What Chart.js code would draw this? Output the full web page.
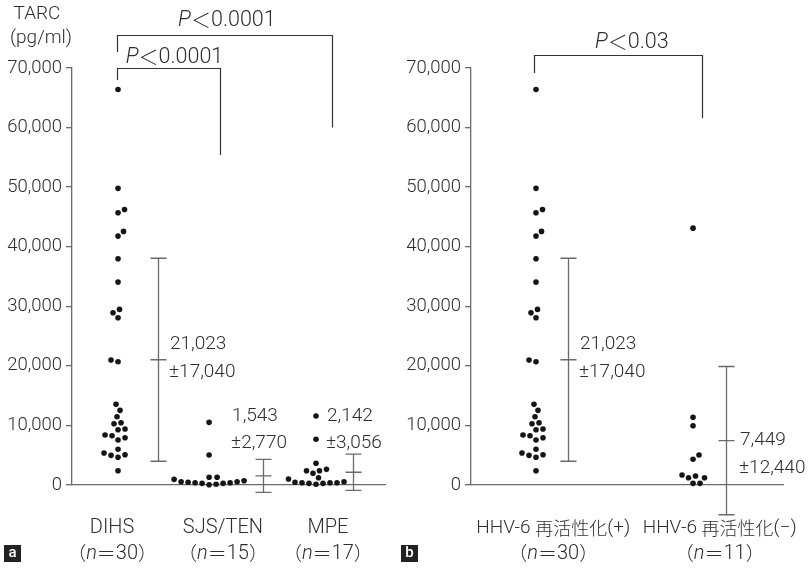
<!DOCTYPE html>
<html><head><meta charset="utf-8">
<script src="https://cdn.jsdelivr.net/npm/chart.js@4.4.1/dist/chart.umd.min.js"></script>
<style>
html,body{margin:0;padding:0;background:#fff;}
#wrap{position:relative;width:808px;height:569px;overflow:hidden;}
canvas{position:absolute;top:0;}
</style>
</head><body>
<div id="wrap">
<canvas id="c1" width="400" height="569" style="left:0"></canvas>
<canvas id="c2" width="408" height="569" style="left:400px"></canvas>
</div>
<script>
// ---------------- DATA ----------------
const yTickMax = 70000;
const yTickStep = 10000;
const yAxisTitle = ['TARC', '(pg/ml)'];

// panel a
const catsA = ['DIHS', 'SJS/TEN', 'MPE'];
const nA = [30, 15, 17];
const dihsValues = [66400, 49800, 46250, 45690, 42570, 41780, 37970, 34060, 29480, 28910, 28070,
  20970, 20690, 13540, 12530, 11460, 10450, 10290, 9400, 9280, 8390, 8270, 7940, 7550,
  5990, 5370, 5080, 4980, 4650, 2400];
const sjsValues = [10520, 5030, 1290, 1290, 950, 720, 550, 550, 450, 390, 390, 280, 280, 120, 50];
const mpeValues = [11580, 7670, 3640, 2630, 2400, 2400, 1960, 1220, 1010, 550, 450, 390, 390, 390, 280, 280, 120];
const meansA = [21023, 1543, 2142];
const sdsA = [17040, 2770, 3056];
const pTextsA = ['0.0001', '0.0001'];

// panel b
const catsB = ['HHV-6 再活性化(+)', 'HHV-6 再活性化(−)'];
const nB = [30, 11];
const hhvPosValues = dihsValues.slice();
const hhvNegValues = [43120, 11360, 9950, 5030, 4310, 1680, 1510, 1220, 1220, 280, 280];
const meansB = [21023, 7449];
const sdsB = [17040, 12440];
const pTextsB = ['0.03'];

// ---------------- STYLE / LAYOUT ----------------
const TXT = '#2e2e2e';
const AX = '#6a6a6a';
const REG = (s) => `300 ${s}px Roboto, "Liberation Sans", sans-serif`;
const ITA = (s) => `italic 300 ${s}px Roboto, "Liberation Sans", sans-serif`;
const CJK = (s) => `300 ${s}px "Noto Sans CJK JP", sans-serif`;

function fmt(v) { return v.toLocaleString('en-US'); }

function richWidth(ctx, parts) {
  let w = 0;
  parts.forEach(p => { ctx.font = p.f; w += ctx.measureText(p.t).width; });
  return w;
}
function drawRich(ctx, parts, x, y, align) {
  const w = richWidth(ctx, parts);
  let sx = align === 'center' ? x - w / 2 : (align === 'right' ? x - w : x);
  ctx.textBaseline = 'middle';
  ctx.textAlign = 'left';
  parts.forEach(p => { ctx.font = p.f; ctx.fillText(p.t, sx, y); sx += ctx.measureText(p.t).width; });
}
function nLabel(n) {
  return [{t: '（', f: CJK(19)}, {t: 'n', f: ITA(20)}, {t: '＝', f: CJK(19)}, {t: String(n), f: REG(20)}, {t: '）', f: CJK(19)}];
}
function nameLabel(name) {
  const m = name.match(/^(HHV-6 )(再活性化)(.*)$/);
  if (m) return [{t: m[1], f: REG(19)}, {t: m[2], f: CJK(18)}, {t: m[3], f: REG(19)}];
  return [{t: name, f: REG(20)}];
}
function pLabel(p) {
  return [{t: 'P', f: ITA(21.5)}, {t: '＜', f: CJK(20)}, {t: p, f: REG(21.5)}];
}

function makePanel(canvasId, cfg) {
  const groups = cfg.groups;
  const overlay = {
    id: 'overlay' + canvasId,
    afterDatasetsDraw(chart) {
      const ctx = chart.ctx, xs = chart.scales.x, ys = chart.scales.y;
      ctx.save();
      // error bars
      ctx.strokeStyle = AX; ctx.lineWidth = 1.3;
      groups.forEach((g, i) => {
        const cx = Math.round(xs.getPixelForValue(cfg.slots[i]) + cfg.errDx[i]) + 0.5;
        const yt = ys.getPixelForValue(g.mean + g.sd);
        const yb = ys.getPixelForValue(g.mean - g.sd);
        const ym = ys.getPixelForValue(g.mean);
        const hw = 8;
        ctx.beginPath();
        ctx.moveTo(cx, yt); ctx.lineTo(cx, yb);
        ctx.moveTo(cx - hw, yt); ctx.lineTo(cx + hw, yt);
        ctx.moveTo(cx - hw, yb); ctx.lineTo(cx + hw, yb);
        ctx.moveTo(cx - hw, ym); ctx.lineTo(cx + hw, ym);
        ctx.stroke();
        // mean ± sd text
        ctx.fillStyle = TXT;
        const tx = xs.getPixelForValue(cfg.slots[i]) + cfg.textDx[i];
        drawRich(ctx, [{t: fmt(g.mean), f: REG(19)}], tx, ys.getPixelForValue(cfg.textY[i][0]), 'left');
        drawRich(ctx, [{t: '±' + fmt(g.sd), f: REG(19)}], tx - 1, ys.getPixelForValue(cfg.textY[i][1]), 'left');
      });
      // brackets
      ctx.strokeStyle = '#333'; ctx.lineWidth = 1.2; ctx.fillStyle = TXT;
      cfg.brackets.forEach(b => {
        const x1 = Math.round(xs.getPixelForValue(b.x1)) + 0.5, x2 = Math.round(xs.getPixelForValue(b.x2)) + 0.5;
        const yTop = Math.round(ys.getPixelForValue(b.top)) + 0.5;
        ctx.beginPath();
        ctx.moveTo(x1, ys.getPixelForValue(b.left));
        ctx.lineTo(x1, yTop); ctx.lineTo(x2, yTop);
        ctx.lineTo(x2, ys.getPixelForValue(b.right));
        ctx.stroke();
        drawRich(ctx, pLabel(b.p), xs.getPixelForValue(b.tx), ys.getPixelForValue(b.ty), 'center');
      });
      // category labels
      groups.forEach((g, i) => {
        const lx = xs.getPixelForValue(cfg.labelX[i]);
        drawRich(ctx, nameLabel(g.name), lx, 528, 'center');
        drawRich(ctx, nLabel(g.n), lx, 554, 'center');
      });
      // panel letter
      ctx.fillStyle = '#222';
      ctx.fillRect(cfg.boxX, 545, 17, 17);
      ctx.fillStyle = '#fff';
      ctx.font = '500 15px Roboto, sans-serif';
      ctx.textAlign = 'center'; ctx.textBaseline = 'middle';
      ctx.fillText(cfg.letter, cfg.boxX + 8.5, 553.5);
      // y title
      if (cfg.yTitle) {
        ctx.fillStyle = TXT;
        drawRich(ctx, [{t: yAxisTitle[0], f: REG(19)}], 37, 14, 'center');
        drawRich(ctx, [{t: yAxisTitle[1], f: REG(19)}], 41, 38, 'center');
      }
      ctx.restore();
    }
  };

  const chart = new Chart(document.getElementById(canvasId), {
    type: 'scatter',
    data: {datasets: [{
      data: [],
      pointRadius: 2.8, pointHoverRadius: 2.8,
      backgroundColor: '#151515', borderWidth: 0, clip: false
    }]},
    options: {
      responsive: false, animation: false, events: [],
      layout: {padding: {left: 0, right: cfg.padRight, top: 68, bottom: 84}},
      plugins: {legend: {display: false}, tooltip: {enabled: false}},
      scales: {
        x: {type: 'linear', min: cfg.xMin, max: cfg.xMax,
          ticks: {display: false}, grid: {display: false, drawTicks: false},
          border: {display: true, color: AX, width: 1.3},
          afterFit: s => { s.height = 0; }},
        y: {type: 'linear', min: 0, max: yTickMax,
          ticks: {stepSize: yTickStep, callback: v => fmt(v), color: TXT, padding: 4,
            font: {family: 'Roboto', size: 18.5, weight: '300'}},
          grid: {drawOnChartArea: false, drawTicks: true, tickLength: 6, color: AX, lineWidth: 1.3},
          border: {display: true, color: AX, width: 1.3},
          afterFit: s => { s.width = cfg.axisLeft; }}
      }
    },
    plugins: [overlay]
  });

  // beeswarm placement computed through the chart's own scales
  const xs = chart.scales.x, ys = chart.scales.y;
  const D = 7;
  const pts = [];
  groups.forEach((g, gi) => {
    const cx = xs.getPixelForValue(cfg.slots[gi]);
    const order = g.values.map(v => v).sort((a, b) => a - b);
    const placed = [];
    order.forEach((v, k) => {
      const py = ys.getPixelForValue(v);
      let best = 0;
      outer: for (let s = 0; s < 400; s++) {
        const mag = s * 0.5;
        const cands = (k % 2) ? [mag, -mag] : [-mag, mag];
        for (const dx of cands) {
          if (placed.every(p => (p.x - dx) ** 2 + (p.y - py) ** 2 >= D * D)) { best = dx; break outer; }
        }
      }
      placed.push({x: best, y: py});
      pts.push({x: xs.getValueForPixel(cx + best), y: v});
    });
  });
  chart.data.datasets[0].data = pts;
  chart.update('none');
  return chart;
}

makePanel('c1', {
  letter: 'a', boxX: 4, yTitle: true, axisLeft: 72, padRight: 15, xMin: 0.535, xMax: 3.697,
  slots: [1, 1.92, 3],
  groups: [
    {name: catsA[0], n: nA[0], values: dihsValues, mean: meansA[0], sd: sdsA[0]},
    {name: catsA[1], n: nA[1], values: sjsValues, mean: meansA[1], sd: sdsA[1]},
    {name: catsA[2], n: nA[2], values: mpeValues, mean: meansA[2], sd: sdsA[2]}
  ],
  errDx: [40, 54, 37],
  textDx: [52, 23, 11],
  textY: [[23660, 18960], [11580, 7050], [11580, 7050]],
  labelX: [0.94, 2.06, 3.12],
  brackets: [
    {x1: 0.99, x2: 3.16, top: 75500, left: 72700, right: 60000, tx: 2.10, ty: 78000, p: pTextsA[0]},
    {x1: 0.99, x2: 2.03, top: 70000, left: 68000, right: 55400, tx: 1.57, ty: 71800, p: pTextsA[1]}
  ]
});

makePanel('c2', {
  letter: 'b', boxX: 1, yTitle: false, axisLeft: 71, padRight: 25, xMin: 0.586, xMax: 2.573,
  slots: [1, 2],
  groups: [
    {name: catsB[0], n: nB[0], values: hhvPosValues, mean: meansB[0], sd: sdsB[0]},
    {name: catsB[1], n: nB[1], values: hhvNegValues, mean: meansB[1], sd: sdsB[1]}
  ],
  errDx: [32, 33],
  textDx: [44, 47],
  textY: [[23660, 18960], [7550, 2850]],
  labelX: [1.11, 2.17],
  brackets: [
    {x1: 0.99, x2: 2.057, top: 72150, left: 69180, right: 61580, tx: 1.61, ty: 74300, p: pTextsB[0]}
  ]
});
</script>
</body></html>
